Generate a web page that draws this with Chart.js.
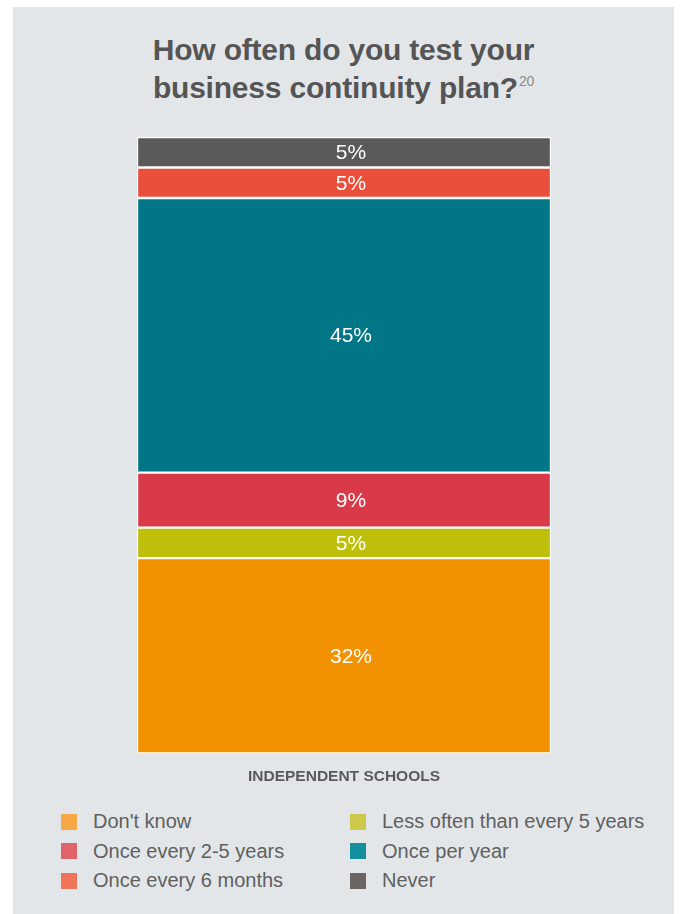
<!DOCTYPE html>
<html>
<head>
<meta charset="utf-8">
<script src="https://cdn.jsdelivr.net/npm/chart.js@4.4.1/dist/chart.umd.min.js"></script>
<style>
  html, body { margin: 0; padding: 0; background: #ffffff; }
  body { width: 680px; height: 914px; position: relative; overflow: hidden; font-family: "Liberation Sans", Arial, sans-serif; }
  #panel { position: absolute; left: 13px; top: 7px; width: 661px; height: 907px; background: #e3e6e9; }
  #title { position: absolute; left: 0; top: 24px; width: 661px; text-align: center; color: #555555;
           font-weight: bold; font-size: 30px; line-height: 38px; letter-spacing: -0.2px; }
  #title sup { font-weight: normal; font-size: 14px; color: #8a8a8a; vertical-align: top; position: relative; top: -7px; margin-left: 1px; }
  #chartBox { position: absolute; left: 0; top: 120px; width: 661px; height: 680px; }
  #legend { position: absolute; left: 48px; top: 800px; display: grid; grid-template-columns: 289px 310px; grid-auto-rows: 29.5px; }
  .item { display: flex; align-items: center; color: #606060; font-size: 20px; }
  .swatch { width: 16px; height: 16px; margin-right: 16px; flex: none; }
</style>
</head>
<body>
<div id="panel">
  <div id="title">How often do you test your<br>business continuity plan?<sup>20</sup></div>
  <div id="chartBox"><canvas id="chart" width="661" height="680"></canvas></div>
  <div id="legend"></div>
</div>
<script>
// data, bottom to top of the stack
const categories = ["INDEPENDENT SCHOOLS"];
const seriesNames = ["Don't know", "Less often than every 5 years", "Once every 2-5 years", "Once per year", "Once every 6 months", "Never"];
const seriesValues = [32, 5, 9, 45, 5, 5];
const barColors = ["#f29200", "#bdbf0b", "#d93a4a", "#007686", "#e94f3a", "#5a5a58"];
const legendColors = ["#f7a845", "#cdc94b", "#e0636a", "#138f9e", "#ef7459", "#6a6562"];

const total = seriesValues.reduce((a, b) => a + b, 0);

// legend (two columns)
const legendEl = document.getElementById("legend");
seriesNames.forEach((name, i) => {
  legendEl.insertAdjacentHTML("beforeend",
    `<div class="item"><span class="swatch" style="background:${legendColors[i]}"></span>${name}</div>`);
});

// labels inside the segments
const segmentLabels = {
  id: "segmentLabels",
  afterDatasetsDraw(chart) {
    const ctx = chart.ctx;
    ctx.save();
    ctx.fillStyle = "#ffffff";
    ctx.font = '21px "Liberation Sans", Arial, sans-serif';
    ctx.textAlign = "center";
    ctx.textBaseline = "middle";
    chart.data.datasets.forEach((ds, i) => {
      chart.getDatasetMeta(i).data.forEach((bar, j) => {
        const mid = (bar.y + bar.base) / 2;
        ctx.fillText(ds.data[j] + "%", bar.x + 7, mid + 1);
      });
    });
    ctx.restore();
  }
};

new Chart(document.getElementById("chart"), {
  type: "bar",
  data: {
    labels: categories,
    datasets: seriesNames.map((name, i) => ({
      label: name,
      data: [seriesValues[i]],
      backgroundColor: barColors[i],
      borderColor: "#ffffff",
      borderWidth: 1.5,
      borderSkipped: false,
      barPercentage: 1,
      categoryPercentage: 1
    }))
  },
  options: {
    responsive: false,
    animation: false,
    layout: { padding: { left: 124, right: 123, top: 10, bottom: 15 } },
    plugins: {
      legend: { display: false },
      title: { display: false },
      tooltip: { enabled: false }
    },
    scales: {
      x: {
        stacked: true,
        grid: { display: false },
        border: { display: false },
        ticks: { color: "#5a5a5a", padding: 6, font: { family: "Liberation Sans", size: 15.5, weight: "bold" } }
      },
      y: { stacked: true, display: false, min: 0, max: total }
    }
  },
  plugins: [segmentLabels]
});
</script>
</body>
</html>
